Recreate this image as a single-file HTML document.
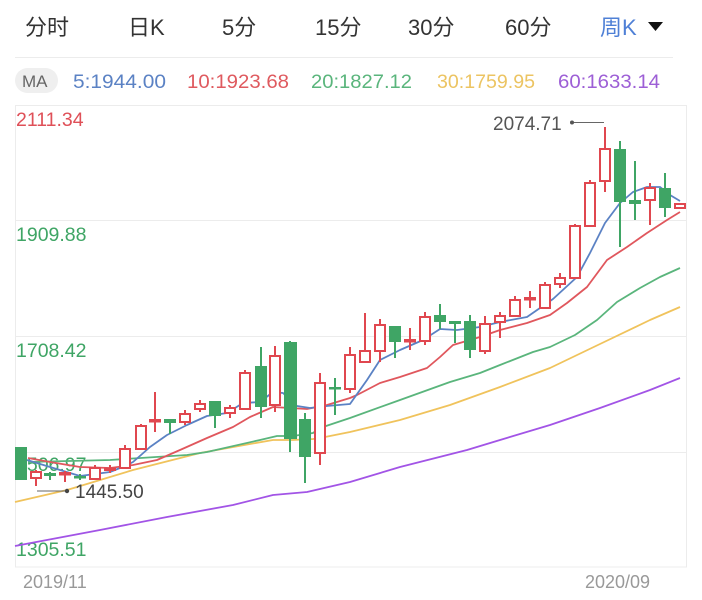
<!DOCTYPE html>
<html><head><meta charset="utf-8"><style>
html,body{margin:0;padding:0;background:#fff;}
svg{display:block;}
text{font-family:"Liberation Sans","Noto Sans CJK SC",sans-serif;}
</style></head><body>
<svg width="702" height="600" viewBox="0 0 702 600" xmlns="http://www.w3.org/2000/svg">
<rect width="702" height="600" fill="#fff"/>
<!-- tabs -->
<g font-size="22" fill="#333">
<text x="25" y="35">分时</text>
<text x="128" y="35">日K</text>
<text x="222" y="35">5分</text>
<text x="315" y="35">15分</text>
<text x="408" y="35">30分</text>
<text x="505" y="35">60分</text>
<text x="600" y="35" fill="#4f80d6">周K</text>
</g>
<polygon points="648,22 663,22 655.5,31" fill="#111"/>
<line x1="15" y1="57.5" x2="673" y2="57.5" stroke="#ececec" stroke-width="1"/>
<!-- MA row -->
<rect x="15" y="68" width="43" height="25" rx="12.5" fill="#efefef"/>
<text x="22" y="87" font-size="17" fill="#666">MA</text>
<g font-size="19">
<text x="73" y="88" fill="#5b82c4" textLength="93" lengthAdjust="spacingAndGlyphs">5:1944.00</text>
<text x="187" y="88" fill="#df5a5f" textLength="102" lengthAdjust="spacingAndGlyphs">10:1923.68</text>
<text x="311" y="88" fill="#5ab57c" textLength="101" lengthAdjust="spacingAndGlyphs">20:1827.12</text>
<text x="437" y="88" fill="#ecc462" textLength="98" lengthAdjust="spacingAndGlyphs">30:1759.95</text>
<text x="558" y="88" fill="#9d5fd6" textLength="102" lengthAdjust="spacingAndGlyphs">60:1633.14</text>
</g>
<!-- grid -->
<g stroke="#ececec" stroke-width="1">
<line x1="15" y1="105.5" x2="687" y2="105.5"/>
<line x1="15" y1="220.5" x2="687" y2="220.5"/>
<line x1="15" y1="336.5" x2="687" y2="336.5"/>
<line x1="15" y1="452.5" x2="687" y2="452.5"/>
<line x1="15" y1="567" x2="687" y2="567"/>
<line x1="15.5" y1="105" x2="15.5" y2="567"/>
<line x1="686.5" y1="105" x2="686.5" y2="567"/>
</g>
<!-- price labels -->
<g font-size="19.5">
<text x="16" y="126" fill="#df5058">2111.34</text>
<text x="16" y="241" fill="#3fa565">1909.88</text>
<text x="16" y="357" fill="#3fa565">1708.42</text>
<text x="16" y="471" fill="#3fa565">1506.97</text>
<text x="16" y="556" fill="#3fa565">1305.51</text>
</g>
<!-- date labels -->
<g font-size="18" fill="#999">
<text x="23" y="588">2019/11</text>
<text x="585" y="588">2020/09</text>
</g>
<!-- MA lines -->
<g fill="none" stroke-width="1.8" stroke-linejoin="round">
<polyline stroke="#a254e6" points="15,546 100,530 167,517 233,505 273,495 307,492 350,482 400,467 467,450 500,440 550,425 600,408 650,390 680,378"/>
<polyline stroke="#f0c35c" points="15,502 67,490 133,470 200,453 250,444 273,440 293,440 313,439 320,438 350,432 400,420 450,405 500,387 550,368 600,344 650,320 680,307"/>
<polyline stroke="#5ab57c" points="28,462 110,460 187,455 207,452 260,440 277,436 293,436 313,433 320,428 350,418 400,400 450,382 480,373 500,365 533,352 550,347 575,335 597,320 617,302 640,288 660,277 680,268"/>
<polyline stroke="#e0575d" points="28,458 50,462 80,467 110,468 133,465 157,460 180,450 207,438 233,427 250,417 273,407 290,408 307,409 327,405 350,398 357,395 380,383 400,377 427,368 440,357 453,345 480,337 500,330 527,323 550,315 567,303 587,287 607,260 627,247 647,233 667,220 680,212"/>
<polyline stroke="#5b82c4" points="27,460 50,467 80,476 95,474 110,472 125,466 133,462 141,455 150,447 167,435 187,425 207,416 227,413 243,403 260,402 273,392 283,393 297,406 310,408 327,406 350,404 367,380 380,360 400,350 423,340 440,329 457,330 480,327 500,322 527,317 540,308 553,299 577,277 590,253 605,223 620,203 633,192 647,187 660,187 670,195 680,201"/>
</g>
<!-- candles -->
<g id="candles" stroke-width="2">
<!-- green: filled -->
<g fill="#3fa565" stroke="#3fa565">
<rect x="15" y="447" width="12" height="33" stroke="none"/>
<line x1="50" y1="472" x2="50" y2="480"/><rect x="44" y="473" width="12" height="3" stroke="none"/>
<line x1="80" y1="474" x2="80" y2="480"/><rect x="74" y="476" width="12" height="2.5" stroke="none"/>
<line x1="170" y1="419" x2="170" y2="434"/><rect x="164" y="419" width="12" height="4" stroke="none"/>
<line x1="215" y1="401" x2="215" y2="428"/><rect x="209" y="401" width="12" height="15" stroke="none"/>
<line x1="261" y1="347" x2="261" y2="418"/><rect x="255" y="366" width="12" height="41" stroke="none"/>
<line x1="290" y1="341" x2="290" y2="452"/><rect x="284" y="342" width="13" height="97" stroke="none"/>
<line x1="305" y1="413" x2="305" y2="483"/><rect x="299" y="419" width="12" height="38" stroke="none"/>
<line x1="335" y1="378" x2="335" y2="415"/><rect x="329" y="387" width="12" height="2.5" stroke="none"/>
<line x1="395" y1="326" x2="395" y2="358"/><rect x="389" y="326" width="12" height="16" stroke="none"/>
<line x1="440" y1="304" x2="440" y2="329"/><rect x="434" y="315" width="12" height="7" stroke="none"/>
<line x1="455" y1="321" x2="455" y2="343"/><rect x="449" y="321" width="12" height="3" stroke="none"/>
<line x1="470" y1="315" x2="470" y2="358"/><rect x="464" y="321" width="12" height="29" stroke="none"/>
<line x1="620" y1="141" x2="620" y2="247"/><rect x="614" y="149" width="12" height="53" stroke="none"/>
<line x1="635" y1="161" x2="635" y2="220"/><rect x="629" y="200" width="12" height="4" stroke="none"/>
<line x1="665" y1="173" x2="665" y2="217"/><rect x="659" y="188" width="12" height="20" stroke="none"/>
</g>
<!-- red: hollow -->
<g fill="#fff" stroke="#e0474f">
<line x1="36" y1="470" x2="36" y2="486"/><rect x="31" y="472" width="10" height="6"/>
<line x1="65" y1="471" x2="65" y2="482"/><rect x="60" y="473" width="10" height="1.5"/>
<line x1="95" y1="465" x2="95" y2="480"/><rect x="90" y="468" width="10" height="11"/>
<line x1="110" y1="465" x2="110" y2="473"/><rect x="105" y="468.5" width="10" height="1.5"/>
<line x1="125" y1="445" x2="125" y2="468"/><rect x="120" y="449" width="10" height="19"/>
<line x1="141" y1="424" x2="141" y2="450"/><rect x="136" y="426" width="10" height="23"/>
<line x1="155" y1="392" x2="155" y2="432"/><rect x="150" y="420" width="10" height="1.5"/>
<line x1="185" y1="410" x2="185" y2="425"/><rect x="180" y="414" width="10" height="8"/>
<line x1="200" y1="400" x2="200" y2="412"/><rect x="195" y="404" width="10" height="5"/>
<line x1="230" y1="405" x2="230" y2="418"/><rect x="225" y="408" width="10" height="5"/>
<line x1="245" y1="370" x2="245" y2="410"/><rect x="240" y="373" width="10" height="36"/>
<line x1="275" y1="346" x2="275" y2="412"/><rect x="270" y="356" width="10" height="49"/>
<line x1="320" y1="373" x2="320" y2="465"/><rect x="315" y="383" width="10" height="70"/>
<line x1="350" y1="347" x2="350" y2="393"/><rect x="345" y="355" width="10" height="34"/>
<line x1="365" y1="313" x2="365" y2="362"/><rect x="360" y="351" width="10" height="11"/>
<line x1="380" y1="319" x2="380" y2="362"/><rect x="375" y="325" width="10" height="26"/>
<line x1="410" y1="328" x2="410" y2="350"/><rect x="405" y="340" width="10" height="1.5"/>
<line x1="425" y1="312" x2="425" y2="345"/><rect x="420" y="317" width="10" height="24"/>
<line x1="485" y1="316" x2="485" y2="354"/><rect x="480" y="324" width="10" height="27"/>
<line x1="500" y1="312" x2="500" y2="338"/><rect x="495" y="316" width="10" height="6"/>
<line x1="515" y1="296" x2="515" y2="316"/><rect x="510" y="300" width="10" height="16"/>
<line x1="530" y1="291" x2="530" y2="308"/><rect x="525" y="298" width="10" height="1.5"/>
<line x1="545" y1="282" x2="545" y2="308"/><rect x="540" y="285" width="10" height="23"/>
<line x1="560" y1="273" x2="560" y2="288"/><rect x="555" y="278" width="10" height="6"/>
<line x1="575" y1="224" x2="575" y2="278"/><rect x="570" y="226" width="10" height="52"/>
<line x1="590" y1="180" x2="590" y2="226"/><rect x="585" y="183" width="10" height="43"/>
<line x1="605" y1="127" x2="605" y2="192"/><rect x="600" y="149" width="10" height="32"/>
<line x1="650" y1="183" x2="650" y2="225"/><rect x="645" y="188" width="10" height="12"/>
<rect x="675" y="204" width="10" height="4"/>
</g>
</g>
<!-- annotations -->
<line x1="572" y1="122.5" x2="604" y2="122.5" stroke="#666" stroke-width="1"/>
<circle cx="572" cy="122.5" r="2" fill="#555"/>
<text x="493" y="130" font-size="19" fill="#555">2074.71</text>
<line x1="37" y1="491" x2="67" y2="491" stroke="#666" stroke-width="1"/>
<circle cx="67" cy="491" r="2.2" fill="#444"/>
<text x="75" y="498" font-size="19" fill="#444">1445.50</text>
</svg>
</body></html>
